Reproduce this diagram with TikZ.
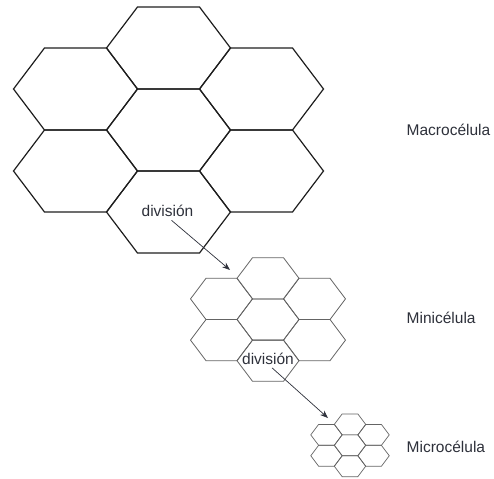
\documentclass[tikz,border=0pt]{standalone}
\usepackage{fontspec}
\setmainfont{Liberation Sans}
\usetikzlibrary{arrows.meta}
\definecolor{macrocolor}{RGB}{30,30,30}
\definecolor{minicolor}{RGB}{100,100,100}
\definecolor{labelcolor}{RGB}{45,48,58}

\begin{document}
\begin{tikzpicture}[
    x=1pt, y=-1pt,
    macrocell/.style={draw=macrocolor, line width=1.2pt, line join=miter},
    minicell/.style={draw=minicolor, line width=0.8pt},
    microcell/.style={draw=minicolor, line width=0.7pt},
    celllabel/.style={anchor=west, inner sep=0pt, text=labelcolor, font=\fontsize{15.5}{18}\selectfont},
    divlabel/.style={text=labelcolor, font=\fontsize{15.5}{18}\selectfont},
    arrow/.style={-{Stealth[length=8pt, width=6pt]}, draw=labelcolor, line width=0.7pt}
]
\useasboundingbox (0,0) rectangle (494,478);

% Macro cells
\foreach \dx/\dy in {0/0, 0/-2, 0/2, -1.5/-1, -1.5/1, 1.5/-1, 1.5/1}
  \draw[macrocell] (168.5,130) ++(\dx*62,\dy*41)
    +(-62,0) -- +(-31,-41) -- +(31,-41) -- +(62,0) -- +(31,41) -- +(-31,41) -- cycle;

% Mini cells
\foreach \dx/\dy in {0/0, 0/-2, 0/2, -1.5/-1, -1.5/1, 1.5/-1, 1.5/1}
  \draw[minicell] (268,319.5) ++(\dx*31,\dy*20.6)
    +(-31,0) -- +(-15.5,-20.6) -- +(15.5,-20.6) -- +(31,0) -- +(15.5,20.6) -- +(-15.5,20.6) -- cycle;

% Micro cells
\foreach \dx/\dy in {0/0, 0/-2, 0/2, -1.5/-1, -1.5/1, 1.5/-1, 1.5/1}
  \draw[microcell] (350,445.3) ++(\dx*15.7,\dy*10.45)
    +(-15.7,0) -- +(-7.85,-10.45) -- +(7.85,-10.45) -- +(15.7,0) -- +(7.85,10.45) -- +(-7.85,10.45) -- cycle;

% Labels
\node[celllabel] (macro) at (406.5,130) {Macrocélula};
\node[celllabel] (mini) at (406.5,318) {Minicélula};
\node[celllabel] (micro) at (406.5,447) {Microcélula};

% Division arrows
\node[divlabel] (div1) at (167.5,211) {división};
\node[divlabel] (div2) at (268,358.5) {división};
\coordinate (tip1) at (230,270);
\coordinate (tip2) at (328,418);
\draw[arrow] ([xshift=4pt]div1.south) -- (tip1);
\draw[arrow] ([xshift=4pt]div2.south) -- (tip2);

\end{tikzpicture}
\end{document}
